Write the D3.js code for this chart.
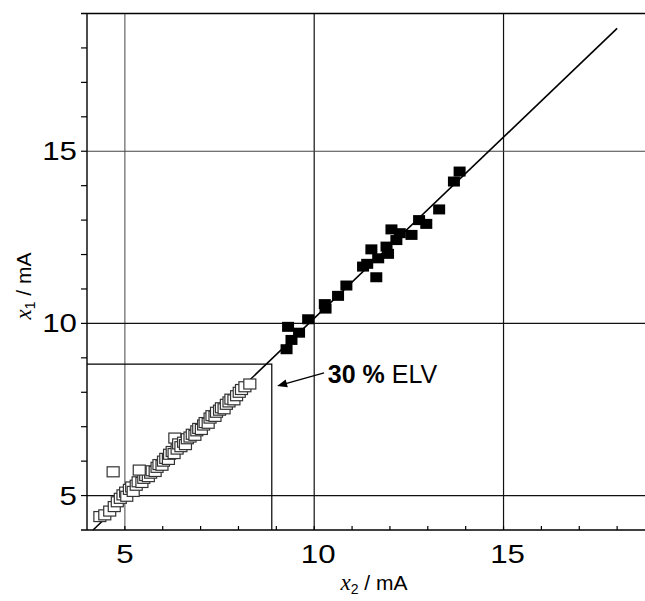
<!DOCTYPE html>
<html><head><meta charset="utf-8">
<script src="https://cdn.jsdelivr.net/npm/d3@7"></script>
<style>body{margin:0;background:#fff}svg{display:block}</style>
</head><body>
<svg id="c" width="645" height="601"></svg>
<script>
// ---- data ----
const openX = [4.34,4.47,4.60,4.72,4.80,4.88,4.95,5.02,5.05,5.12,5.18,5.22,5.30,5.35,5.45,5.50,5.55,5.62,5.68,5.72,5.80,5.85,5.90,5.98,6.02,6.08,6.15,6.18,6.25,6.30,6.32,6.38,6.42,6.48,6.55,6.60,6.65,6.72,6.78,6.85,6.90,6.95,7.02,7.08,7.12,7.20,7.25,7.30,7.38,7.42,7.50,7.55,7.62,7.68,7.75,7.80,7.88,7.95,8.02,8.08,8.17,8.30,4.69,5.38];
const openY = [4.39,4.44,4.55,4.68,4.82,4.92,5.02,5.10,4.98,5.18,5.25,5.12,5.30,5.40,5.38,5.50,5.58,5.55,5.65,5.72,5.70,5.82,5.90,5.88,6.00,6.08,6.05,6.20,6.28,6.22,6.67,6.35,6.50,6.42,6.55,6.48,6.65,6.70,6.78,6.75,6.88,6.95,6.92,7.05,7.12,7.10,7.25,7.32,7.30,7.42,7.48,7.55,7.52,7.65,7.72,7.80,7.78,7.90,8.00,8.08,8.16,8.24,5.69,5.74];
const filledX = [9.27,9.40,9.60,9.31,9.84,10.28,10.30,10.63,10.85,11.64,11.29,11.40,11.69,11.95,11.51,11.91,12.17,12.57,12.26,12.04,12.96,12.77,13.30,13.69,13.84];
const filledY = [9.25,9.52,9.73,9.90,10.12,10.56,10.43,10.80,11.10,11.34,11.65,11.73,11.89,12.02,12.15,12.23,12.42,12.57,12.62,12.73,12.89,13.00,13.31,14.12,14.41];
const fitX = [4.16, 18.0];
const fitY = [4.0, 18.57];
const elvX = 8.88, elvY = 8.82;
const majorTicks = [5, 10, 15];
const minorTicks = d3.range(4, 20, 1);
const annText = ["30 %", " ELV"];
const arrowFrom = [10.26, 8.56], arrowTo = [9.02, 8.18], textAt = [10.36, 8.27];

// ---- scales ----
const svg = d3.select("#c");
const x = d3.scaleLinear().domain([4, 19]).range([87, 655]);
const y = d3.scaleLinear().domain([4, 19]).range([530, 13.5]);

// grid
svg.append("g").selectAll("line").data(majorTicks).join("line")
  .attr("x1", d => x(d)).attr("x2", d => x(d)).attr("y1", y(4)).attr("y2", y(19))
  .attr("stroke", d => d === 5 ? "#666" : "#111").attr("stroke-width", 1.2);
svg.append("g").selectAll("line").data(majorTicks).join("line")
  .attr("y1", d => y(d)).attr("y2", d => y(d)).attr("x1", x(4)).attr("x2", 645)
  .attr("stroke", d => d === 15 ? "#444" : "#111").attr("stroke-width", 1.2);

// axes lines
svg.append("line").attr("x1", 81).attr("x2", 645).attr("y1", y(19)).attr("y2", y(19)).attr("stroke", "#000").attr("stroke-width", 1.6);
svg.append("line").attr("x1", 81).attr("x2", 645).attr("y1", y(4)).attr("y2", y(4)).attr("stroke", "#000").attr("stroke-width", 1.6);
svg.append("line").attr("x1", x(4)).attr("x2", x(4)).attr("y1", y(19)).attr("y2", y(4)).attr("stroke", "#000").attr("stroke-width", 1.4);

// y ticks (outward)
svg.append("g").selectAll("line").data(minorTicks.filter(d => d > 4 && d < 19)).join("line")
  .attr("x1", 81).attr("x2", x(4)).attr("y1", d => y(d)).attr("y2", d => y(d))
  .attr("stroke", "#000").attr("stroke-width", 1.2);
// x ticks (inward)
svg.append("g").selectAll("line").data(minorTicks.filter(d => d > 4 && d <= 18)).join("line")
  .attr("y1", y(4) - 4).attr("y2", y(4)).attr("x1", d => x(d)).attr("x2", d => x(d))
  .attr("stroke", "#000").attr("stroke-width", 1.2);

// tick labels
const lblFont = "'Liberation Sans', Arial, sans-serif";
svg.append("g").selectAll("text").data(majorTicks).join("text")
  .attr("transform", d => `translate(${x(4) - 10},${y(d) + 9}) scale(1.25,1)`)
  .attr("text-anchor", "end").attr("font-family", lblFont).attr("font-size", 25)
  .text(d => d);
svg.append("g").selectAll("text").data(majorTicks).join("text")
  .attr("transform", d => `translate(${x(d) + (d === 5 ? 0 : 4)},${y(4) + 33}) scale(1.25,1)`)
  .attr("text-anchor", "middle").attr("font-family", lblFont).attr("font-size", 25)
  .text(d => d);

// axis titles
function title(g, sub) {
  const t = g.append("text").attr("font-family", lblFont).attr("font-size", 21).attr("text-anchor", "middle");
  t.append("tspan").attr("font-family", "'Liberation Serif', 'Times New Roman', serif").attr("font-style", "italic").attr("font-size", 23).text("x");
  t.append("tspan").attr("font-size", 14).attr("dy", 4).text(sub);
  t.append("tspan").attr("dy", -4).text(" / mA");
  return t;
}
title(svg.append("g").attr("transform", "translate(374,590)"), "2");
title(svg.append("g").attr("transform", "translate(31,286) rotate(-90)"), "1");

// ELV box
svg.append("path")
  .attr("d", `M${x(4)},${y(elvY)}H${x(elvX)}V${y(4)}`)
  .attr("fill", "none").attr("stroke", "#000").attr("stroke-width", 1.2);

// fit line
svg.append("line")
  .attr("x1", x(fitX[0])).attr("y1", y(fitY[0])).attr("x2", x(fitX[1])).attr("y2", y(fitY[1]))
  .attr("stroke", "#000").attr("stroke-width", 1.6);

// open squares
const W = 12, H = 10;
svg.append("g").selectAll("rect").data(openX.map((v, i) => [v, openY[i]])).join("rect")
  .attr("x", d => x(d[0]) - W / 2).attr("y", d => y(d[1]) - H / 2)
  .attr("width", W).attr("height", H)
  .attr("fill", "#fff").attr("stroke", "#333").attr("stroke-width", 1.2);

// filled squares
svg.append("g").selectAll("rect").data(filledX.map((v, i) => [v, filledY[i]])).join("rect")
  .attr("x", d => x(d[0]) - W / 2).attr("y", d => y(d[1]) - H / 2)
  .attr("width", W).attr("height", H).attr("fill", "#000");

// annotation
const ax1 = x(arrowFrom[0]), ay1 = y(arrowFrom[1]), ax2 = x(arrowTo[0]), ay2 = y(arrowTo[1]);
svg.append("line").attr("x1", ax1).attr("y1", ay1).attr("x2", ax2 + 6).attr("y2", ay2 - 1.6)
  .attr("stroke", "#000").attr("stroke-width", 1.3);
const ang = Math.atan2(ay2 - ay1, ax2 - ax1);
const L = 10, Wd = 4;
const bx = ax2 - L * Math.cos(ang), by = ay2 - L * Math.sin(ang);
svg.append("path")
  .attr("d", `M${ax2},${ay2}L${bx + Wd * Math.sin(ang)},${by - Wd * Math.cos(ang)}L${bx - Wd * Math.sin(ang)},${by + Wd * Math.cos(ang)}Z`)
  .attr("fill", "#000");
const at = svg.append("text").attr("x", x(textAt[0])).attr("y", y(textAt[1]))
  .attr("font-family", lblFont).attr("font-size", 25);
at.append("tspan").attr("font-weight", "bold").text(annText[0]);
at.append("tspan").text(annText[1]);
</script>
</body></html>
